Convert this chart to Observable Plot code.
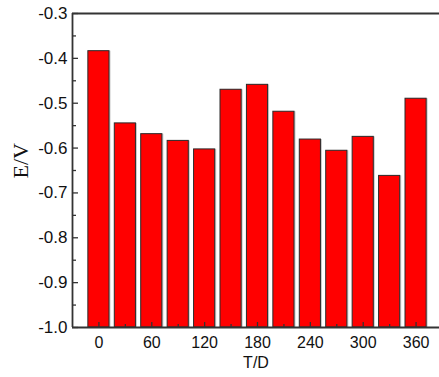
<!DOCTYPE html>
<html>
<head>
<meta charset="utf-8">
<script src="https://cdn.jsdelivr.net/npm/d3@7"></script>
<script src="https://cdn.jsdelivr.net/npm/@observablehq/plot@0.6"></script>
<style>
  html, body { margin: 0; padding: 0; background: white; }
</style>
</head>
<body>
<div id="chart"></div>
<script>
const T = [0, 30, 60, 90, 120, 150, 180, 210, 240, 270, 300, 330, 360];
const E = [-0.384, -0.545, -0.569, -0.584, -0.603, -0.470, -0.459, -0.519, -0.581, -0.606, -0.575, -0.662, -0.490];
const xTickLabels = [0, 60, 120, 180, 240, 300, 360];
const xMinorTicks = [30, 90, 150, 210, 270, 330];
const yTickLabels = [-1.0, -0.9, -0.8, -0.7, -0.6, -0.5, -0.4, -0.3];
const yMinorTicks = [-0.95, -0.85, -0.75, -0.65, -0.55, -0.45, -0.35];
const barHalfWidth = 12;

const data = T.map((t, i) => ({T: t, E: E[i]}));

const chart = Plot.plot({
  width: 439,
  height: 377,
  marginLeft: 72,
  marginRight: 0,
  marginTop: 13,
  marginBottom: 50,
  style: {fontFamily: "'Liberation Sans', Arial, sans-serif", background: "white", color: "#111"},
  x: {type: "linear", domain: [-30, 390], range: [72, 442], axis: null},
  y: {domain: [-1.0, -0.3], axis: null},
  marks: [
    Plot.rectY(data, {x1: d => d.T - barHalfWidth, x2: d => d.T + barHalfWidth, y1: -1.0, y2: "E", fill: "#c8c8c8", dx: 1.5}),
    Plot.rectY(data, {x1: d => d.T - barHalfWidth, x2: d => d.T + barHalfWidth, y1: -1.0, y2: "E", fill: "#ff0000", stroke: "#2a2a2a", strokeWidth: 1}),
    Plot.ruleY([-0.3, -1.0], {stroke: "#333", strokeWidth: 1.8}),
    Plot.ruleX([-30], {stroke: "#333", strokeWidth: 1.8}),
    Plot.ruleX(xTickLabels, {x: d => d, y1: -1.0, y2: -1.0, insetTop: -5, stroke: "#333", strokeWidth: 1.3}),
    Plot.ruleX(xMinorTicks, {x: d => d, y1: -1.0, y2: -1.0, insetTop: -3, stroke: "#333", strokeWidth: 1.3}),
    Plot.ruleY(yTickLabels, {y: d => d, x1: -30, x2: -30, insetRight: -6, stroke: "#333", strokeWidth: 1.3}),
    Plot.ruleY(yMinorTicks, {y: d => d, x1: -30, x2: -30, insetRight: -4, stroke: "#333", strokeWidth: 1.3}),
    Plot.axisX(xTickLabels, {tickSize: 0, tickPadding: 9, fontSize: 16, tickFormat: d => String(d), label: null}),
    Plot.axisY(yTickLabels, {tickSize: 0, tickPadding: 5, fontSize: 17, tickFormat: d => d.toFixed(1), label: null}),
    Plot.text(["E/V"], {frameAnchor: "left", dx: -52, dy: 8, rotate: -90, fontFamily: "'Liberation Serif', 'Times New Roman', serif", fontSize: 22}),
    Plot.text(["T/D"], {frameAnchor: "bottom", dy: 40, fontSize: 16})
  ]
});

document.getElementById("chart").appendChild(chart);
</script>
</body>
</html>
